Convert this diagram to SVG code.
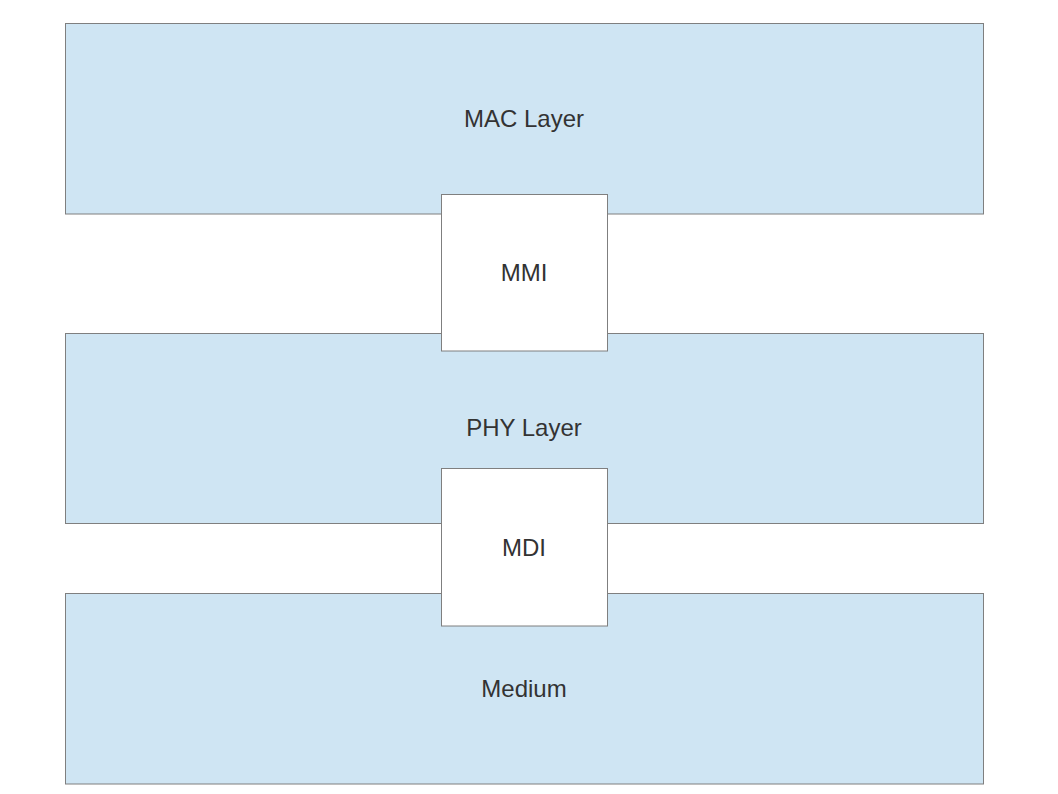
<svg xmlns="http://www.w3.org/2000/svg" width="1058" height="794" viewBox="0 0 1058 794">
<style>
.layer{fill:#cfe5f3;stroke:#7f7f7f;stroke-width:1}
.iface{fill:#ffffff;stroke:#7f7f7f;stroke-width:1}
.lbl{font-family:"Liberation Sans",Arial,sans-serif;font-size:24px;fill:#333333;text-anchor:middle;dominant-baseline:central}
</style>
<rect width="1058" height="794" fill="#ffffff"/>
<g id="mac"><rect class="layer" x="65.5" y="23.5" width="918" height="190.5"/><text class="lbl" x="524" y="118">MAC Layer</text></g>
<g id="phy"><rect class="layer" x="65.5" y="333.5" width="918" height="190"/><text class="lbl" x="524" y="427">PHY Layer</text></g>
<g id="medium"><rect class="layer" x="65.5" y="593.5" width="918" height="190.5"/><text class="lbl" x="524" y="688">Medium</text></g>
<g id="mmi"><rect class="iface" x="441.5" y="194.5" width="166" height="156.5"/><text class="lbl" x="524" y="272">MMI</text></g>
<g id="mdi"><rect class="iface" x="441.5" y="468.5" width="166" height="157.5"/><text class="lbl" x="524" y="547">MDI</text></g>
<g id="connectors"></g>
</svg>
